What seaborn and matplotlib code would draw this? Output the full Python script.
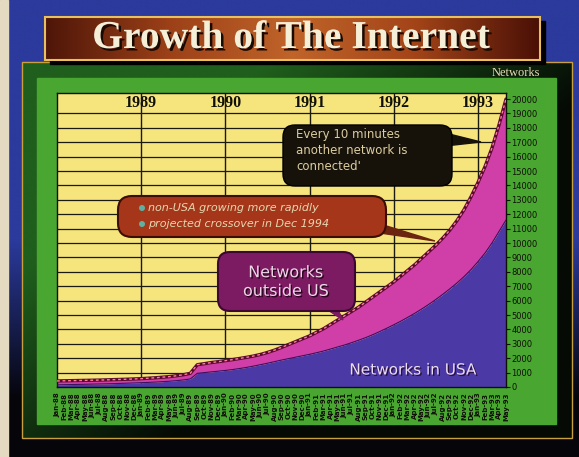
import numpy as np
import matplotlib
matplotlib.use("Agg")
import matplotlib.pyplot as plt
import matplotlib.patheffects as pe
import seaborn as sns
import pandas as pd
from matplotlib.patches import FancyBboxPatch, Rectangle, Polygon, Circle
from matplotlib.colors import to_rgb

# ---------------- data (monthly, Jan 1988 - May 1993) ----------------
month_names = ["Jan", "Feb", "Mar", "Apr", "May", "Jun",
               "Jul", "Aug", "Sep", "Oct", "Nov", "Dec"]
month_labels = [f"{m}-{y:02d}" for y in range(88, 94) for m in month_names][:65]

total_networks = [420, 430, 440, 450, 460, 470, 480, 495, 510, 525, 540, 560,
                  580, 610, 640, 680, 720, 780, 850, 950,
                  1550, 1620, 1700, 1760, 1830, 1900, 1980, 2060, 2150, 2260, 2400, 2560,
                  2750, 2950, 3150, 3350, 3550, 3800, 4050, 4350,
                  4650, 4950, 5250, 5550, 5900, 6250, 6600, 6950,
                  7300, 7700, 8100, 8500, 8950, 9400, 9850, 10350,
                  10900, 11550, 12300, 13200, 14200, 15300, 16600, 18200, 20000]

usa_networks = [150, 160, 170, 180, 190, 200, 210, 220, 235, 250, 265, 280,
                300, 320, 340, 370, 400, 440, 490, 560,
                950, 1000, 1050, 1100, 1150, 1210, 1280, 1360, 1450, 1550, 1650, 1760,
                1870, 1970, 2070, 2170, 2270, 2380, 2500, 2640,
                2780, 2920, 3080, 3250, 3430, 3630, 3850, 4080,
                4320, 4570, 4840, 5120, 5420, 5740, 6080, 6440,
                6820, 7220, 7660, 8150, 8700, 9300, 10000, 10800, 11600]

year_labels = ["1989", "1990", "1991", "1992", "1993"]
year_month_index = [12, 24, 36, 48, 60]
y_ticks = list(range(0, 20001, 1000))

df = pd.DataFrame({"month": np.arange(len(total_networks)),
                   "total": total_networks, "usa": usa_networks})

# ---------------- figure ----------------
sns.set_style("white")
plt.rcParams["font.family"] = ["DejaVu Sans"]

W, H = 579, 457
fig = plt.figure(figsize=(W / 100, H / 100), dpi=100)

bg = fig.add_axes([0, 0, 1, 1])
bg.set_xlim(0, W)
bg.set_ylim(H, 0)
bg.axis("off")

# background: blue fading to black downward
blue = np.array(to_rgb("#2b3a9c"))
black = np.array([0.02, 0.02, 0.04])
yy = np.linspace(0, H, 200)[:, None]
t = np.clip((yy - 240) / 160, 0, 1)
grad = blue * (1 - t) + black * t
grad = np.repeat(grad[:, None, :], 2, axis=1).reshape(200, 2, 3)
bg.imshow(grad, extent=(0, W, H, 0), aspect="auto", interpolation="bilinear", zorder=0)
bg.add_patch(Rectangle((0, 0), 8, H, color="#e4dac2", zorder=1))

# outer frame: dark green (top-left) to black (bottom-right)
nx, ny = 120, 100
gx, gy = np.meshgrid(np.linspace(0, 1, nx), np.linspace(0, 1, ny))
s = 0.55 * gx + 0.45 * gy
tt = np.clip((s - 0.25) / 0.35, 0, 1)[..., None]
dg = np.array(to_rgb("#1f5e1c"))
bk = np.array([0.02, 0.04, 0.02])
frame = dg * (1 - tt) + bk * tt
bg.imshow(frame, extent=(22, 572, 438, 62), aspect="auto", interpolation="bilinear", zorder=2)
bg.add_patch(Rectangle((22, 62), 550, 376, fill=False, ec="#c9a040", lw=1, zorder=3))
bg.add_patch(Rectangle((37, 78), 519, 346, color="#48a631", zorder=3))

# title box
bg.add_patch(Rectangle((50, 21), 495, 43, color="#000000", zorder=3))
stops = [to_rgb(c) for c in ["#4e1608", "#9c4018", "#c0642a", "#a24418", "#4a1006"]]
xs = np.linspace(0, 1, 200)
sp = np.linspace(0, 1, len(stops))
tg = np.stack([np.interp(xs, sp, [c[i] for c in stops]) for i in range(3)], axis=-1)
tg = np.repeat(tg[None, :, :], 2, axis=0)
bg.imshow(tg, extent=(45, 540, 60, 17), aspect="auto", interpolation="bilinear", zorder=4)
bg.add_patch(Rectangle((45, 17), 495, 43, fill=False, ec="#e8c060", lw=1.5, zorder=5))
bg.text(291, 38.5, "Growth of The Internet", ha="center", va="center",
        fontfamily="Liberation Serif", fontweight="bold", fontsize=28.5, color="#f6efd8",
        zorder=7,
        path_effects=[pe.SimplePatchShadow(offset=(1.8, -1.8), shadow_rgbFace="#1a0a04",
                                           alpha=1),
                      pe.Normal()])
bg.text(516, 73, "Networks", ha="center", va="center", fontfamily="Liberation Serif",
        fontsize=9, color="#e8dcb4", zorder=6)

# ---------------- chart ----------------
ax = fig.add_axes([57 / W, 1 - 387 / H, 449 / W, 294 / H], zorder=5)
ax.set_facecolor("#f6e47c")
for v in y_ticks[1:-1]:
    ax.axhline(v, color="#1a1a10", lw=0.9, zorder=0.5)
for p in year_month_index:
    ax.axvline(p, color="#1a1a10", lw=1.0, zorder=0.5)

ax.fill_between(df["month"], 0, df["usa"], color="#4b3aa6", lw=0, zorder=2)
ax.fill_between(df["month"], df["usa"], df["total"], color="#d03fa8", lw=0, zorder=2)
sns.lineplot(data=df, x="month", y="usa", ax=ax, color="#3a1060", lw=0.8, zorder=3)
sns.lineplot(data=df, x="month", y="total", ax=ax, color="#5a0a30", lw=2.4, zorder=3)
sns.lineplot(data=df, x="month", y="total", ax=ax, color="#ff7a9a", lw=1.0,
             linestyle=(0, (2, 2)), zorder=4)

ax.set_xlim(0, 64)
ax.set_ylim(0, 20420)
ax.set_xlabel("")
ax.set_ylabel("")

ax.yaxis.tick_right()
ax.set_yticks(y_ticks)
ax.set_yticklabels([str(v) for v in y_ticks], fontsize=6, color="#101008")
ax.tick_params(axis="y", length=3, width=0.8, color="#101008", pad=1)

ax.set_xticks(df["month"])
ax.set_xticklabels(month_labels, rotation=90, fontsize=5, color="#101008", fontweight="bold")
ax.tick_params(axis="x", length=0, pad=4)
ax.set_xticks([0, 10.5, 21, 31.5, 42, 53], minor=True)
ax.tick_params(axis="x", which="minor", length=3, width=0.8, color="#101008")

for sp_ in ax.spines.values():
    sp_.set_color("#101008")
    sp_.set_linewidth(1.0)

for p, lab in zip(year_month_index, year_labels):
    ax.text(p, 19750, lab, ha="center", va="center", fontfamily="Liberation Serif",
            fontweight="bold", fontsize=11.5, color="#101008", zorder=5)

# ---------------- annotations overlay ----------------
ov = fig.add_axes([0, 0, 1, 1], zorder=10)
ov.set_xlim(0, W)
ov.set_ylim(H, 0)
ov.axis("off")
ov.patch.set_alpha(0)

# black callout
ov.add_patch(Polygon([(445, 133), (481, 142), (445, 146)], closed=True, color="#16120a"))
ov.add_patch(FancyBboxPatch((283, 125), 169, 61, boxstyle="round,pad=0,rounding_size=12",
                            fc="#16120a", ec="#000000", lw=1))
ov.text(296, 128, "Every 10 minutes\nanother network is\nconnected'", ha="left", va="top",
        fontsize=8.5, color="#dccca0", linespacing=1.3)

# orange callout
ov.add_patch(Polygon([(380, 224), (435, 241), (380, 233)], closed=True, color="#6a2410"))
ov.add_patch(FancyBboxPatch((118, 196), 268, 41, boxstyle="round,pad=0,rounding_size=14",
                            fc="#a5361a", ec="#3a0e04", lw=1.5))
for yb, txt in [(208, "non-USA growing more rapidly"), (224, "projected crossover in Dec 1994")]:
    ov.add_patch(Circle((142, yb), 2.3, color="#5fb0a0"))
    ov.text(148, yb, txt, ha="left", va="center", fontsize=8, fontstyle="italic",
            color="#e6d6b0")

# magenta callout
ov.add_patch(Polygon([(322, 306), (343, 320), (336, 306)], closed=True, color="#7c1a62"))
ov.add_patch(FancyBboxPatch((218, 252), 137, 59, boxstyle="round,pad=0,rounding_size=12",
                            fc="#7c1a62", ec="#3a0830", lw=1.5))
ov.text(286, 282, "Networks\noutside US", ha="center", va="center", fontsize=11.5,
        color="#ecd6e6", linespacing=1.3,
        path_effects=[pe.SimplePatchShadow(offset=(1, -1), shadow_rgbFace="#2a0420", alpha=1),
                      pe.Normal()])

# USA label
ov.text(413, 370, "Networks in USA", ha="center", va="center", fontsize=11,
        color="#eadcf2",
        path_effects=[pe.SimplePatchShadow(offset=(1, -1), shadow_rgbFace="#2a1040", alpha=1),
                      pe.Normal()])

fig.savefig("out.png", dpi=100)
